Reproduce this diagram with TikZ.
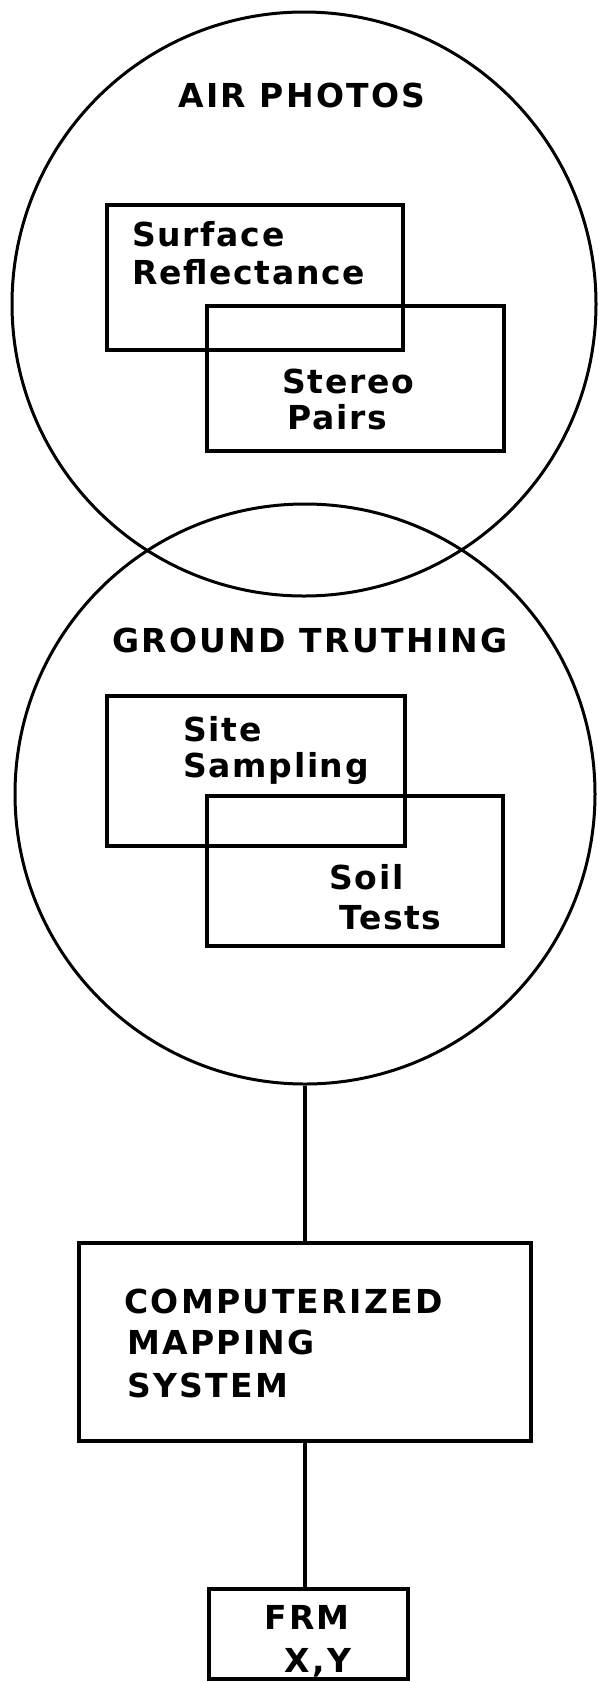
\documentclass[tikz,border=0pt]{standalone}
\usepackage{fontspec}
\newfontfamily\capsfont[LetterSpace=7]{DejaVu Sans}
\newfontfamily\lowfont[LetterSpace=5]{DejaVu Sans}
\begin{document}
\begin{tikzpicture}[x=0.5pt,y=-0.5pt,
  ring/.style={draw, circle, line width=1.5pt, inner sep=0pt},
  panel/.style={draw, rectangle, line width=1.9pt, inner sep=0pt},
  link/.style={line width=1.6pt},
  heading/.style={font=\capsfont\bfseries\fontsize{16.5}{20}\selectfont, inner sep=0pt, anchor=base},
  capline/.style={font=\capsfont\bfseries\fontsize{16.5}{20}\selectfont, inner sep=0pt, anchor=base west},
  lowline/.style={font=\lowfont\bfseries\fontsize{16.5}{20}\selectfont, inner sep=0pt, anchor=base west}]
\useasboundingbox (0,0) rectangle (598,1682);

% the two overlapping source circles
\node[ring, minimum size=292pt] (air) at (304,304) {};
\node[ring, minimum size=290pt] (ground) at (305,794) {};

% boxes inside the air photo circle
\node[panel, minimum width=148pt, minimum height=72.5pt] (surf) at (255,277.5) {};
\node[panel, minimum width=148.5pt, minimum height=72.5pt] (stereo) at (355.5,378.5) {};

% boxes inside the ground truthing circle
\node[panel, minimum width=149pt, minimum height=75pt] (site) at (256,771) {};
\node[panel, minimum width=148pt, minimum height=75pt] (soil) at (355,871) {};

% mapping system and output
\node[panel, minimum width=226pt, minimum height=99pt] (mapping) at (305,1342) {};
\node[panel, minimum width=99.5pt, minimum height=45pt] (frm) at (308.5,1634) {};

% labels
\node[heading] (airtitle) at (302,107) {AIR PHOTOS};
\node[lowline] (surft1) at (132,246) {Surface};
\node[lowline] (surft2) at (132,284) {Reflectance};
\node[lowline] (stereot1) at (282,393) {Stereo};
\node[lowline] (stereot2) at (287,429) {Pairs};

\node[heading] (groundtitle) at (310,652) {GROUND TRUTHING};
\node[lowline] (sitet1) at (183,741) {Site};
\node[lowline] (sitet2) at (183,777) {Sampling};
\node[lowline] (soilt1) at (329,889) {Soil};
\node[lowline] (soilt2) at (339,929) {Tests};

\node[capline] (mapt1) at (124,1313) {COMPUTERIZED};
\node[capline] (mapt2) at (127,1354) {MAPPING};
\node[capline] (mapt3) at (127,1397) {SYSTEM};

\node[capline] (frmt1) at (264,1629) {FRM};
\node[capline] (frmt2) at (284,1672) {X,Y};

% connectors
\draw[link] (ground.south) -- (mapping.north);
\draw[link] (mapping.south) -- (mapping.south |- frm.north);
\end{tikzpicture}
\end{document}
